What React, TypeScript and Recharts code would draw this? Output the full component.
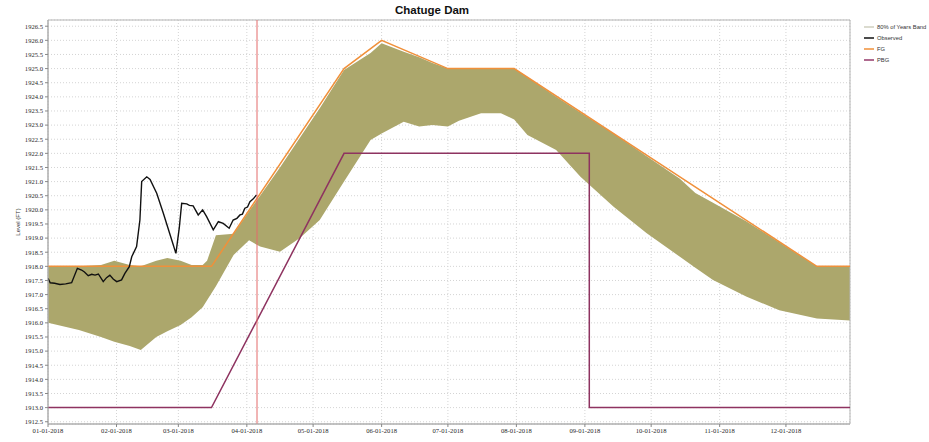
import React from 'react';
import {
  ComposedChart,
  Line,
  Area,
  XAxis,
  YAxis,
  CartesianGrid,
  ReferenceLine,
  ReferenceArea,
} from 'recharts';

// ---------- data ----------
const monthTickDays = [0, 31, 59, 90, 120, 151, 181, 212, 243, 273, 304, 334];
const monthTickLabels = [
  '01-01-2018', '02-01-2018', '03-01-2018', '04-01-2018', '05-01-2018', '06-01-2018',
  '07-01-2018', '08-01-2018', '09-01-2018', '10-01-2018', '11-01-2018', '12-01-2018',
];
const levelTicks = [
  1912.5, 1913.0, 1913.5, 1914.0, 1914.5, 1915.0, 1915.5, 1916.0, 1916.5, 1917.0,
  1917.5, 1918.0, 1918.5, 1919.0, 1919.5, 1920.0, 1920.5, 1921.0, 1921.5, 1922.0,
  1922.5, 1923.0, 1923.5, 1924.0, 1924.5, 1925.0, 1925.5, 1926.0, 1926.5,
];
const yMin = 1912.42;
const yMax = 1926.72;
const xMax = 363;

const bandDays = [
  0, 14, 24, 30, 37, 42, 49, 54, 60, 65, 70, 72, 76, 84, 91, 96, 105, 114, 123, 134,
  146, 151, 161, 168, 174, 181, 186, 196, 205, 211, 217, 230, 241, 256, 271, 286, 293,
  301, 316, 331, 348, 363,
];
const bandLow = [
  1916.0, 1915.75, 1915.5, 1915.33, 1915.18, 1915.04, 1915.5, 1915.7, 1915.92, 1916.2,
  1916.55, 1916.8, 1917.3, 1918.4, 1918.92, 1918.7, 1918.52, 1919.0, 1919.64, 1921.0,
  1922.47, 1922.7, 1923.12, 1922.95, 1923.0, 1922.95, 1923.15, 1923.42, 1923.42, 1923.2,
  1922.65, 1922.12, 1921.17, 1920.11, 1919.17, 1918.34, 1917.95, 1917.52, 1916.93,
  1916.45, 1916.15, 1916.08,
];
const bandHigh = [
  1918.0, 1918.0, 1918.05, 1918.2, 1918.05, 1918.0, 1918.2, 1918.3, 1918.2, 1918.05,
  1918.05, 1918.2, 1919.1, 1919.15, 1919.95, 1920.5, 1921.5, 1922.55, 1923.6, 1924.95,
  1925.55, 1925.9, 1925.6, 1925.4, 1925.2, 1925.0, 1925.0, 1925.0, 1925.0, 1925.0,
  1924.7, 1924.0, 1923.45, 1922.7, 1921.9, 1921.1, 1920.6, 1920.25, 1919.6, 1918.85,
  1918.0, 1918.0,
];

const observedDays = [
  0, 1, 3, 5.4, 8, 10.7, 13.3, 15.2, 16.5, 18.2, 19.8, 21.3, 22.8, 25, 26.5, 28, 29.5,
  31.1, 33.3, 34.8, 36.8, 37.9, 40.1, 41.6, 42.4, 44.7, 46.2, 49.2, 52.2, 56, 57.9,
  59.4, 60.5, 62.8, 64, 65.7, 68, 70, 71.8, 74.8, 77.1, 79.3, 82, 83.8, 85.5, 86.9,
  88, 89.1, 90.3, 91.4, 92.8, 94.4,
];
const observedLevel = [
  1917.58, 1917.42, 1917.4, 1917.36, 1917.38, 1917.42, 1917.93, 1917.87, 1917.8,
  1917.67, 1917.72, 1917.69, 1917.73, 1917.46, 1917.6, 1917.69, 1917.55, 1917.46,
  1917.52, 1917.75, 1917.99, 1918.34, 1918.7, 1919.64, 1921.0, 1921.17, 1921.08,
  1920.59, 1919.88, 1918.93, 1918.46, 1919.35, 1920.23, 1920.21, 1920.16, 1920.14,
  1919.82, 1920.0, 1919.76, 1919.29, 1919.58, 1919.52, 1919.35, 1919.64, 1919.7,
  1919.82, 1919.85, 1920.06, 1920.1, 1920.29, 1920.38, 1920.53,
];

const fgDays = [0, 74, 134, 151, 181, 211, 348, 363];
const fgLevel = [1918.0, 1918.0, 1925.0, 1926.0, 1925.0, 1925.0, 1918.0, 1918.0];

const pbgDays = [0, 74, 134, 245, 245, 363];
const pbgLevel = [1913.0, 1913.0, 1922.0, 1922.0, 1913.0, 1913.0];

const currentDay = 94.6;

const legendNames = ['80% of Years Band', 'Observed', 'FG', 'PBG'];
const legendColors = ['#cfcfbf', '#111111', '#f0903a', '#94386a'];

// ---------- derived tables ----------
const bandData = bandDays.map((d, i) => ({ day: d, range: [bandLow[i], bandHigh[i]] }));
const observedData = observedDays.map((d, i) => ({ day: d, level: observedLevel[i] }));
const fgData = fgDays.map((d, i) => ({ day: d, level: fgLevel[i] }));
const pbgData = pbgDays.map((d, i) => ({ day: d, level: pbgLevel[i] }));

const tickFont = { fontSize: 6.6, fill: '#2a2a2a', fontFamily: 'Liberation Serif, serif' };

export default function App() {
  return (
    <div style={{ position: 'absolute', left: 0, top: 0, width: 929, height: 442, background: '#fff' }}>
      <ComposedChart
        width={929}
        height={442}
        margin={{ top: 20, right: 79, left: 8, bottom: 4 }}
      >
        <CartesianGrid stroke="#d4d4d4" strokeDasharray="1 2" />
        <XAxis
          dataKey="day"
          type="number"
          domain={[0, xMax]}
          ticks={monthTickDays}
          interval={0}
          allowDataOverflow
          height={14}
          tickSize={3}
          tickMargin={1}
          tick={tickFont}
          axisLine={{ stroke: '#aaa' }}
          tickLine={{ stroke: '#888' }}
          tickFormatter={(v: number) => monthTickLabels[monthTickDays.indexOf(v)]}
        />
        <YAxis
          type="number"
          domain={[yMin, yMax]}
          ticks={levelTicks}
          interval={0}
          allowDataOverflow
          width={40}
          tickSize={3}
          tickMargin={2}
          tick={tickFont}
          axisLine={{ stroke: '#aaa' }}
          tickLine={{ stroke: '#888' }}
          tickFormatter={(v: number) => v.toFixed(1)}
        />
        <Area
          data={bandData}
          dataKey="range"
          type="linear"
          fill="#aca76c"
          fillOpacity={1}
          stroke="none"
          isAnimationActive={false}
        />
        <Line
          data={pbgData}
          dataKey="level"
          type="linear"
          stroke="#8e3360"
          strokeWidth={1.5}
          dot={false}
          isAnimationActive={false}
        />
        <Line
          data={fgData}
          dataKey="level"
          type="linear"
          stroke="#f0903a"
          strokeWidth={1.5}
          dot={false}
          isAnimationActive={false}
        />
        <Line
          data={observedData}
          dataKey="level"
          type="linear"
          stroke="#111"
          strokeWidth={1.4}
          dot={false}
          isAnimationActive={false}
        />
        <ReferenceLine x={currentDay} stroke="#e36a6a" strokeWidth={1} />
        <ReferenceArea x1={0} x2={xMax} y1={yMin} y2={yMax} fill="none" stroke="#b5b5b5" strokeWidth={1} />
      </ComposedChart>
      <svg
        width={929}
        height={442}
        style={{ position: 'absolute', left: 0, top: 0, pointerEvents: 'none' }}
      >
        <text
          x={432}
          y={14}
          textAnchor="middle"
          fontFamily="Liberation Sans, Arial, sans-serif"
          fontWeight="bold"
          fontSize={11.5}
          fill="#111"
        >
          Chatuge Dam
        </text>
        <text
          x={20}
          y={222}
          textAnchor="middle"
          transform="rotate(-90 20 222)"
          fontFamily="Liberation Sans, Arial, sans-serif"
          fontSize={6}
          fill="#333"
        >
          Level (FT)
        </text>
        {legendNames.map((name, i) => (
          <g key={name}>
            <line x1={864} x2={874} y1={27 + i * 11} y2={27 + i * 11} stroke={legendColors[i]} strokeWidth={1.5} />
            <text
              x={877}
              y={29.2 + i * 11}
              fontFamily="Liberation Sans, Arial, sans-serif"
              fontSize={5.8}
              fill="#333"
            >
              {name}
            </text>
          </g>
        ))}
      </svg>
    </div>
  );
}
